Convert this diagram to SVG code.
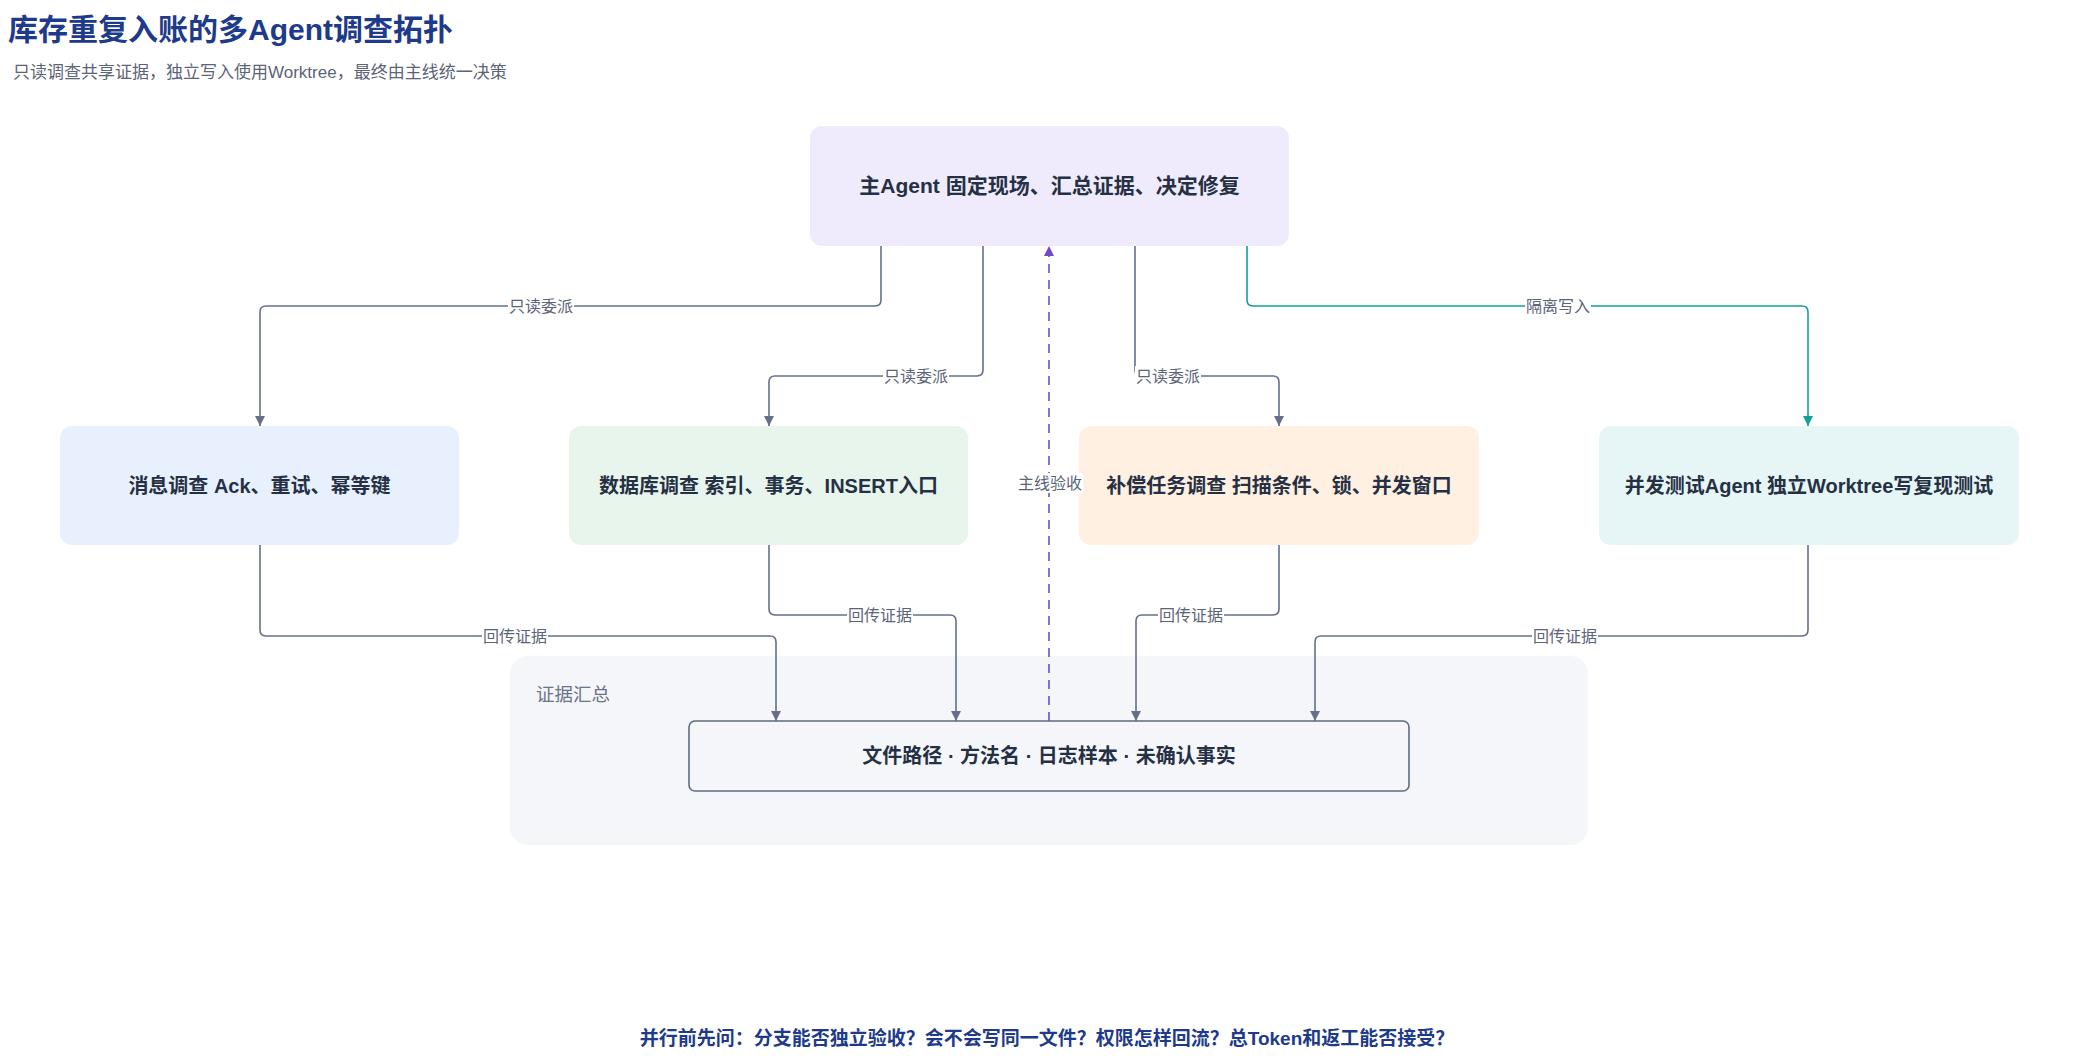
<svg xmlns="http://www.w3.org/2000/svg" width="2100" height="1061" viewBox="0 0 2100 1061">
<style>
text{font-family:"Liberation Sans","Noto Sans CJK SC",sans-serif}
.title{font-size:30px;font-weight:bold;fill:#1e3a8a}
.sub{font-size:17px;fill:#5b6478}
.node{stroke:none}
.nt{font-size:20px;font-weight:bold;fill:#253044;text-anchor:middle}
.edge{fill:none;stroke:#64708a;stroke-width:1.6}
.teal{fill:none;stroke:#129e98;stroke-width:1.6}
.dash{fill:none;stroke:#6d4ad1;stroke-width:1.6;stroke-dasharray:9 7}
.lbg{fill:#ffffff}
.lt{font-size:16px;fill:#5b6478;text-anchor:middle}
.grp{font-size:18.5px;fill:#6b7488}
.foot{font-size:19px;font-weight:bold;fill:#1e3a8a;text-anchor:middle}
</style>
<defs>
<marker id="ah" viewBox="0 0 10 10" refX="10" refY="5" markerWidth="10" markerHeight="10" markerUnits="userSpaceOnUse" orient="auto"><path d="M0,0 L10,5 L0,10 z" fill="#64708a"/></marker>
<marker id="aht" viewBox="0 0 10 10" refX="10" refY="5" markerWidth="10" markerHeight="10" markerUnits="userSpaceOnUse" orient="auto"><path d="M0,0 L10,5 L0,10 z" fill="#129e98"/></marker>
<marker id="ahp" viewBox="0 0 10 10" refX="10" refY="5" markerWidth="10" markerHeight="10" markerUnits="userSpaceOnUse" orient="auto"><path d="M0,0 L10,5 L0,10 z" fill="#6d4ad1"/></marker>
</defs>
<rect width="2100" height="1061" fill="#ffffff"/>
<text class="title" x="8" y="40">库存重复入账的多Agent调查拓扑</text>
<text class="sub" x="13" y="78">只读调查共享证据，独立写入使用Worktree，最终由主线统一决策</text>

<g id="evidence-group">
<rect x="510" y="656" width="1078" height="189" rx="18" fill="#f4f6fa"/>
<text class="grp" x="536" y="701">证据汇总</text>
</g>

<g id="main">
<rect class="node" x="810" y="126" width="479" height="120" rx="12" fill="#efebfc"/>
<text class="nt" x="1049.5" y="193" style="font-size:21px">主Agent 固定现场、汇总证据、决定修复</text>
</g>
<g id="msg">
<rect class="node" x="60" y="426" width="399" height="119" rx="12" fill="#e8f0fe"/>
<text class="nt" x="259.5" y="493">消息调查 Ack、重试、幂等键</text>
</g>
<g id="db">
<rect class="node" x="569" y="426" width="399" height="119" rx="12" fill="#e8f5ec"/>
<text class="nt" x="768.5" y="493">数据库调查 索引、事务、INSERT入口</text>
</g>
<g id="comp">
<rect class="node" x="1079" y="426" width="400" height="119" rx="12" fill="#fff0e1"/>
<text class="nt" x="1279" y="493">补偿任务调查 扫描条件、锁、并发窗口</text>
</g>
<g id="test">
<rect class="node" x="1599" y="426" width="420" height="119" rx="12" fill="#e6f6f6"/>
<text class="nt" x="1809" y="493">并发测试Agent 独立Worktree写复现测试</text>
</g>
<g id="evidence">
<rect x="689" y="721" width="720" height="70" rx="6" fill="#f4f6fa" stroke="#5f6b82" stroke-width="1.6"/>
<text class="nt" x="1049" y="763">文件路径 · 方法名 · 日志样本 · 未确认事实</text>
</g>

<g id="connectors">
<path class="edge" d="M881,246 V300 Q881,306 875,306 H266 Q260,306 260,312 V426" marker-end="url(#ah)"/>
<path class="edge" d="M983,246 V370 Q983,376 977,376 H775 Q769,376 769,382 V426" marker-end="url(#ah)"/>
<path class="edge" d="M1135,246 V370 Q1135,376 1141,376 H1273 Q1279,376 1279,382 V426" marker-end="url(#ah)"/>
<path class="teal" d="M1247,246 V300 Q1247,306 1253,306 H1802 Q1808,306 1808,312 V426" marker-end="url(#aht)"/>
<path class="edge" d="M260,545 V630 Q260,636 266,636 H770 Q776,636 776,642 V721" marker-end="url(#ah)"/>
<path class="edge" d="M769,545 V609 Q769,615 775,615 H950 Q956,615 956,621 V721" marker-end="url(#ah)"/>
<path class="edge" d="M1279,545 V609 Q1279,615 1273,615 H1142 Q1136,615 1136,621 V721" marker-end="url(#ah)"/>
<path class="edge" d="M1808,545 V630 Q1808,636 1802,636 H1321 Q1315,636 1315,642 V721" marker-end="url(#ah)"/>
<path class="dash" d="M1049,721 V246" marker-end="url(#ahp)"/>
<rect class="lbg" x="508" y="296" width="66" height="20"/>
<text class="lt" x="541" y="312">只读委派</text>
<rect class="lbg" x="883" y="366" width="66" height="20"/>
<text class="lt" x="916" y="382">只读委派</text>
<rect class="lbg" x="1135" y="366" width="66" height="20"/>
<text class="lt" x="1168" y="382">只读委派</text>
<rect class="lbg" x="1525" y="296" width="66" height="20"/>
<text class="lt" x="1558" y="312">隔离写入</text>
<rect class="lbg" x="482" y="626" width="66" height="20"/>
<text class="lt" x="515" y="642">回传证据</text>
<rect class="lbg" x="847" y="605" width="66" height="20"/>
<text class="lt" x="880" y="621">回传证据</text>
<rect class="lbg" x="1158" y="605" width="66" height="20"/>
<text class="lt" x="1191" y="621">回传证据</text>
<rect class="lbg" x="1532" y="626" width="66" height="20"/>
<text class="lt" x="1565" y="642">回传证据</text>
<rect class="lbg" x="1017" y="473" width="66" height="20"/>
<text class="lt" x="1050" y="489">主线验收</text>
</g>

<text class="foot" x="1047" y="1045">并行前先问：分支能否独立验收？会不会写同一文件？权限怎样回流？总Token和返工能否接受？</text>
</svg>
